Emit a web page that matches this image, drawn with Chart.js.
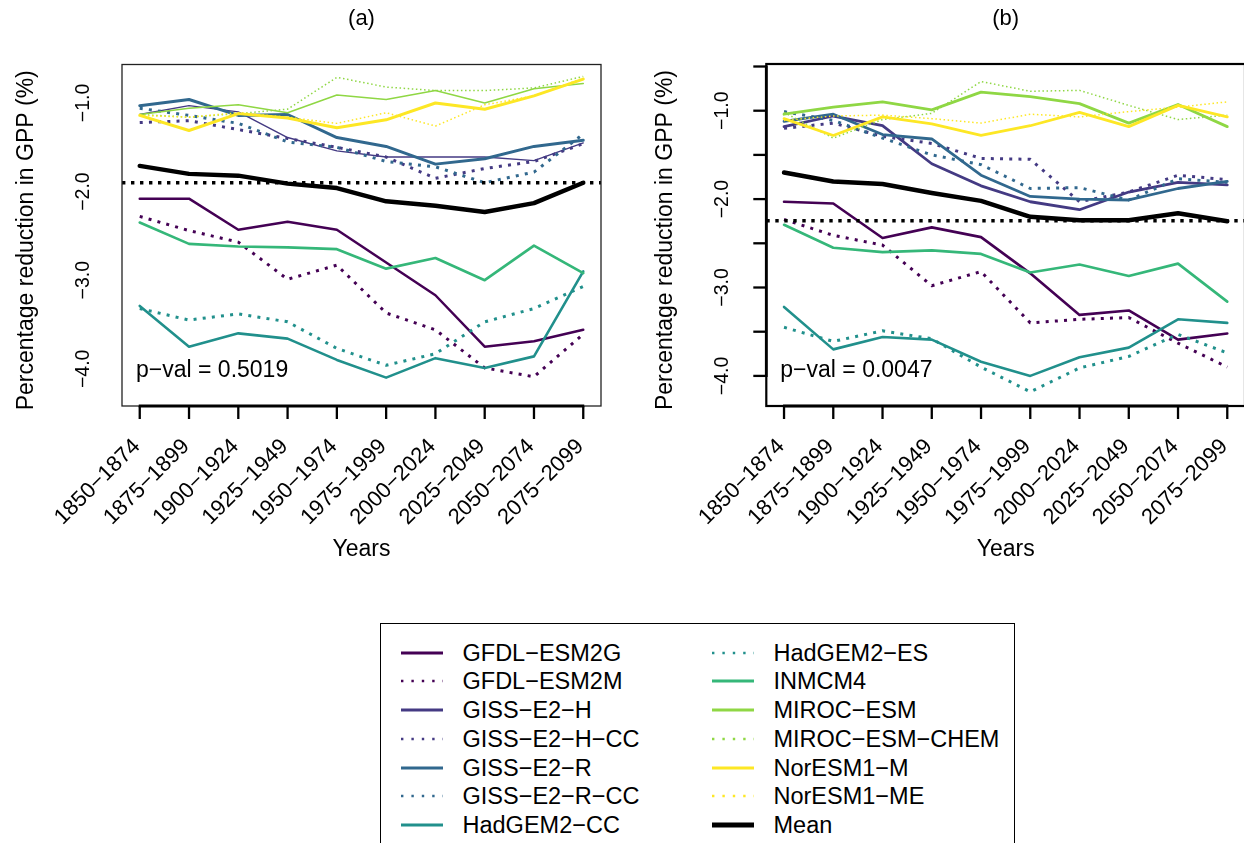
<!DOCTYPE html>
<html><head><meta charset="utf-8">
<script src="https://cdn.jsdelivr.net/npm/chart.js@4.4.1/dist/chart.umd.min.js"></script>
<style>
html,body{margin:0;padding:0;background:#fff;}
body{width:1244px;height:843px;overflow:hidden;position:relative;font-family:"Liberation Sans",Arial,Helvetica,sans-serif;}
canvas{position:absolute;top:0;}
#ca{left:0;}
#cb{left:644px;}
#legend{position:absolute;left:380px;top:623px;width:635px;height:260px;border:1.5px solid #000;box-sizing:border-box;background:#fff;}
.item{position:absolute;height:28px;line-height:28px;font-size:23.5px;color:#000;white-space:nowrap;width:300px;}
.item svg{position:absolute;left:0;top:0;}
.item span{position:absolute;left:63px;top:0;}
</style></head>
<body>
<canvas id="ca" width="644" height="600"></canvas>
<canvas id="cb" width="610" height="600"></canvas>
<div id="legend"></div>
<script>
// ---------------- DATA ----------------
const periods = ['1850\u22121874','1875\u22121899','1900\u22121924','1925\u22121949','1950\u22121974','1975\u22121999','2000\u22122024','2025\u22122049','2050\u22122074','2075\u22122099'];
const models = ['GFDL\u2212ESM2G','GFDL\u2212ESM2M','GISS\u2212E2\u2212H','GISS\u2212E2\u2212H\u2212CC','GISS\u2212E2\u2212R','GISS\u2212E2\u2212R\u2212CC','HadGEM2\u2212CC','HadGEM2\u2212ES','INMCM4','MIROC\u2212ESM','MIROC\u2212ESM\u2212CHEM','NorESM1\u2212M','NorESM1\u2212ME','Mean'];

// Panel (a)
const A_GFDL_ESM2G     = [-2.08, -2.08, -2.43, -2.34, -2.43, -2.80, -3.17, -3.75, -3.69, -3.56];
const A_GFDL_ESM2M     = [-2.28, -2.44, -2.57, -2.99, -2.83, -3.37, -3.56, -3.99, -4.09, -3.61];
const A_GISS_E2_H      = [-1.13, -1.03, -1.10, -1.39, -1.54, -1.61, -1.61, -1.61, -1.65, -1.45];
const A_GISS_E2_H_CC   = [-1.22, -1.20, -1.30, -1.40, -1.50, -1.61, -1.85, -1.74, -1.66, -1.46];
const A_GISS_E2_R      = [-1.03, -0.96, -1.14, -1.13, -1.39, -1.49, -1.69, -1.63, -1.49, -1.42];
const A_GISS_E2_R_CC   = [-1.06, -1.14, -1.23, -1.44, -1.50, -1.66, -1.72, -1.90, -1.78, -1.35];
const A_HadGEM2_CC     = [-3.29, -3.75, -3.60, -3.66, -3.90, -4.10, -3.88, -3.99, -3.86, -2.90];
const A_HadGEM2_ES     = [-3.32, -3.45, -3.38, -3.47, -3.77, -3.96, -3.83, -3.47, -3.32, -3.07];
const A_INMCM4         = [-2.35, -2.59, -2.62, -2.63, -2.65, -2.87, -2.75, -3.00, -2.61, -2.92];
const A_MIROC_ESM      = [-1.13, -1.06, -1.02, -1.11, -0.91, -0.96, -0.86, -1.00, -0.84, -0.78];
const A_MIROC_ESM_CHEM = [-1.13, -1.16, -1.12, -1.07, -0.71, -0.82, -0.86, -0.86, -0.83, -0.70];
const A_NorESM1_M      = [-1.14, -1.31, -1.12, -1.17, -1.28, -1.19, -1.00, -1.07, -0.92, -0.73];
const A_NorESM1_ME     = [-1.14, -1.16, -1.11, -1.16, -1.23, -1.11, -1.26, -1.02, -0.92, -0.72];
const A_Mean           = [-1.71, -1.80, -1.82, -1.91, -1.96, -2.11, -2.16, -2.23, -2.13, -1.90];
const A_ref = -1.90;
const A_pval = 'p\u2212val = 0.5019';

// Panel (b)
const B_GFDL_ESM2G     = [-2.03, -2.05, -2.44, -2.32, -2.43, -2.84, -3.31, -3.26, -3.59, -3.52];
const B_GFDL_ESM2M     = [-2.23, -2.41, -2.52, -2.98, -2.82, -3.40, -3.36, -3.34, -3.63, -3.90];
const B_GISS_E2_H      = [-1.18, -1.06, -1.17, -1.60, -1.85, -2.03, -2.12, -1.92, -1.81, -1.84];
const B_GISS_E2_H_CC   = [-1.20, -1.14, -1.29, -1.37, -1.54, -1.55, -2.03, -1.92, -1.73, -1.78];
const B_GISS_E2_R      = [-1.12, -1.04, -1.27, -1.32, -1.73, -1.97, -2.00, -2.01, -1.88, -1.80];
const B_GISS_E2_R_CC   = [-1.01, -1.11, -1.31, -1.50, -1.61, -1.88, -1.87, -2.01, -1.77, -1.81];
const B_HadGEM2_CC     = [-3.22, -3.70, -3.56, -3.59, -3.84, -4.00, -3.79, -3.68, -3.36, -3.40];
const B_HadGEM2_ES     = [-3.45, -3.61, -3.49, -3.58, -3.90, -4.18, -3.91, -3.78, -3.53, -3.74];
const B_INMCM4         = [-2.29, -2.55, -2.60, -2.58, -2.62, -2.83, -2.74, -2.87, -2.73, -3.16];
const B_MIROC_ESM      = [-1.04, -0.96, -0.90, -0.99, -0.79, -0.84, -0.92, -1.14, -0.93, -1.18];
const B_MIROC_ESM_CHEM = [-1.02, -1.31, -1.10, -1.03, -0.67, -0.78, -0.77, -0.94, -1.10, -1.05];
const B_NorESM1_M      = [-1.09, -1.28, -1.07, -1.15, -1.28, -1.17, -1.02, -1.18, -0.94, -1.07];
const B_NorESM1_ME     = [-1.11, -1.06, -1.05, -1.09, -1.14, -1.04, -1.07, -1.01, -0.96, -0.90];
const B_Mean           = [-1.70, -1.80, -1.83, -1.93, -2.02, -2.20, -2.24, -2.24, -2.16, -2.25];
const B_ref = -2.245;
const B_pval = 'p\u2212val = 0.0047';

// Axis tick values / labels
const yTickValues = [-0.5, -1.0, -1.5, -2.0, -2.5, -3.0, -3.5, -4.0];
const yLabelValues = [-1.0, -2.0, -3.0, -4.0];
const yLabelTexts = ['\u22121.0', '\u22122.0', '\u22123.0', '\u22124.0'];
const yTitle = 'Percentage reduction in GPP (%)';
const xTitle = 'Years';

const seriesA = [A_GFDL_ESM2G, A_GFDL_ESM2M, A_GISS_E2_H, A_GISS_E2_H_CC, A_GISS_E2_R, A_GISS_E2_R_CC, A_HadGEM2_CC, A_HadGEM2_ES, A_INMCM4, A_MIROC_ESM, A_MIROC_ESM_CHEM, A_NorESM1_M, A_NorESM1_ME, A_Mean];
const seriesB = [B_GFDL_ESM2G, B_GFDL_ESM2M, B_GISS_E2_H, B_GISS_E2_H_CC, B_GISS_E2_R, B_GISS_E2_R_CC, B_HadGEM2_CC, B_HadGEM2_ES, B_INMCM4, B_MIROC_ESM, B_MIROC_ESM_CHEM, B_NorESM1_M, B_NorESM1_ME, B_Mean];

// ---------------- STYLES ----------------
const V = ['#440154','#443A83','#31688E','#21908C','#35B779','#8FD744','#FDE725'];
const styles = [
  {c:V[0], dot:false, wA:2.5, wB:2.6},
  {c:V[0], dot:true,  wA:3,   wB:3},
  {c:V[1], dot:false, wA:1.4, wB:2.8},
  {c:V[1], dot:true,  wA:3,   wB:3},
  {c:V[2], dot:false, wA:3,   wB:2.8},
  {c:V[2], dot:true,  wA:3,   wB:3},
  {c:V[3], dot:false, wA:2.6, wB:2.6},
  {c:V[3], dot:true,  wA:3,   wB:3},
  {c:V[4], dot:false, wA:2.7, wB:2.6},
  {c:V[5], dot:false, wA:1.5, wB:2.8},
  {c:V[5], dot:true,  wA:1.5, wB:1.5, fine:true},
  {c:V[6], dot:false, wA:3,   wB:2.8},
  {c:V[6], dot:true,  wA:1.5, wB:1.5, fine:true},
  {c:'#000000', dot:false, wA:4.5, wB:4.5}
];

const FONT = '"Liberation Sans", Arial, Helvetica, sans-serif';

function makeDatasets(series, panel) {
  return series.map((vals, i) => {
    const s = styles[i];
    const w = panel === 'A' ? s.wA : s.wB;
    return {
      label: models[i],
      data: vals.map((v, j) => ({x: j, y: v})),
      borderColor: s.c,
      backgroundColor: s.c,
      borderWidth: w,
      borderDash: s.dot ? (s.fine ? [1.5, 2.6] : [3, 6.2]) : [],
      borderCapStyle: s.dot ? 'butt' : 'round',
      borderJoinStyle: 'round',
      pointRadius: 0,
      tension: 0,
      fill: false,
      order: series.length - i
    };
  });
}

const rPanel = {
  id: 'rpanel',
  afterDatasetsDraw(chart) {
    const o = chart.options.plugins.rpanel;
    const {ctx, chartArea: a} = chart;
    const xs = chart.scales.x, ys = chart.scales.y;
    ctx.save();
    ctx.strokeStyle = '#000'; ctx.fillStyle = '#000';
    // reference dotted line (clipped to plot region)
    const yr = ys.getPixelForValue(o.ref);
    ctx.save();
    ctx.beginPath(); ctx.rect(a.left, a.top, a.right - a.left, a.bottom - a.top); ctx.clip();
    ctx.beginPath(); ctx.setLineDash([3.4, 5.6]); ctx.lineWidth = 3.4; ctx.lineCap = 'butt';
    ctx.moveTo(a.left, yr); ctx.lineTo(a.right, yr); ctx.stroke();
    ctx.restore();
    ctx.setLineDash([]);
    // box
    ctx.lineWidth = o.boxW; ctx.strokeStyle = o.boxC;
    ctx.strokeRect(a.left, a.top, a.right - a.left, a.bottom - a.top);
    ctx.strokeStyle = '#000';
    // x axis
    const x0 = xs.getPixelForValue(0), x9 = xs.getPixelForValue(periods.length - 1);
    ctx.lineCap = 'butt';
    ctx.lineWidth = 2.8;
    ctx.beginPath(); ctx.moveTo(x0 - 1, a.bottom); ctx.lineTo(x9 + 1, a.bottom); ctx.stroke();
    ctx.lineWidth = 2.3;
    periods.forEach((p, i) => {
      const px = xs.getPixelForValue(i);
      ctx.beginPath(); ctx.moveTo(px, a.bottom); ctx.lineTo(px, a.bottom + 13); ctx.stroke();
    });
    // y axis (panel b only)
    if (o.yTicks) {
      const yt = ys.getPixelForValue(yTickValues[0]), yb = ys.getPixelForValue(yTickValues[yTickValues.length - 1]);
      ctx.lineWidth = 2.8;
      ctx.beginPath(); ctx.moveTo(a.left, yt - 1); ctx.lineTo(a.left, yb + 1); ctx.stroke();
      ctx.lineWidth = 2.3;
      yTickValues.forEach(v => {
        const py = ys.getPixelForValue(v);
        ctx.beginPath(); ctx.moveTo(a.left, py); ctx.lineTo(a.left - 13, py); ctx.stroke();
      });
    }
    // x tick labels
    ctx.font = '22px ' + FONT;
    periods.forEach((p, i) => {
      const px = xs.getPixelForValue(i);
      ctx.save();
      ctx.translate(px + o.lblDx, a.bottom + o.lblDy);
      ctx.rotate(-Math.PI / 4);
      ctx.textAlign = 'right'; ctx.textBaseline = 'middle';
      ctx.fillText(p, 0, 0);
      ctx.restore();
    });
    // y tick labels
    ctx.font = '19.5px ' + FONT;
    yLabelValues.forEach((v, i) => {
      const py = ys.getPixelForValue(v);
      ctx.save();
      ctx.translate(o.yLblX, py);
      ctx.rotate(-Math.PI / 2);
      ctx.textAlign = 'center'; ctx.textBaseline = 'middle';
      ctx.fillText(yLabelTexts[i], 0, 0);
      ctx.restore();
    });
    // axis titles
    ctx.font = '23px ' + FONT;
    ctx.save();
    ctx.translate(o.yTitleX, (a.top + a.bottom) / 2 + 5);
    ctx.rotate(-Math.PI / 2);
    ctx.textAlign = 'center'; ctx.textBaseline = 'middle';
    ctx.fillText(yTitle, 0, 0);
    ctx.restore();
    ctx.textAlign = 'center'; ctx.textBaseline = 'middle';
    const cx = (a.left + a.right) / 2;
    ctx.fillText(xTitle, cx, 550);
    // panel title
    ctx.font = '22px ' + FONT;
    ctx.fillText(o.title, cx, 19);
    // p-value
    ctx.font = '23px ' + FONT;
    ctx.textAlign = 'left'; ctx.textBaseline = 'alphabetic';
    ctx.fillText(o.pval, a.left + 14, 377);
    ctx.restore();
  }
};

function makeChart(id, series, panel, pad, ymin, ymax, extra) {
  return new Chart(document.getElementById(id), {
    type: 'line',
    data: {datasets: makeDatasets(series, panel)},
    options: {
      responsive: false, animation: false, devicePixelRatio: 1, events: [],
      layout: {padding: pad},
      scales: {
        x: {type: 'linear', min: -0.36, max: periods.length - 1 + 0.36, display: false, bounds: 'data'},
        y: {type: 'linear', min: ymin, max: ymax, display: false, bounds: 'data'}
      },
      plugins: {legend: {display: false}, tooltip: {enabled: false}, title: {display: false}, rpanel: extra}
    },
    plugins: [rPanel]
  });
}

makeChart('ca', seriesA, 'A', {left: 122, top: 64.5, right: 43, bottom: 194}, -4.42, -0.5655,
  {ref: A_ref, pval: A_pval, title: '(a)', boxW: 1.3, boxC: '#222', yTicks: false, lblDx: -3, lblDy: 37, yLblX: 84, yTitleX: 27});
makeChart('cb', seriesB, 'B', {left: 122.3, top: 64, right: 9, bottom: 194}, -4.3405, -0.4717,
  {ref: B_ref, pval: B_pval, title: '(b)', boxW: 2.2, boxC: '#000', yTicks: true, lblDx: -3, lblDy: 37, yLblX: 79, yTitleX: 22});

// ---------------- LEGEND (HTML) ----------------
const legend = document.getElementById('legend');
models.forEach((m, i) => {
  const col = i < 7 ? 0 : 1;
  const row = i % 7;
  const s = styles[i];
  const left = col === 0 ? 18.5 : 329.5;
  const top = 28.5 + row * 28.75 - 14;
  const w = m === 'Mean' ? 5 : (s.dot ? 2.4 : 3);
  const dash = s.dot ? 'stroke-dasharray="2.4 8"' : '';
  const div = document.createElement('div');
  div.className = 'item';
  div.style.left = left + 'px';
  div.style.top = top + 'px';
  div.innerHTML = '<svg width="46" height="28"><line x1="1" y1="14" x2="43" y2="14" stroke="' + s.c + '" stroke-width="' + w + '" ' + dash + '/></svg><span>' + m + '</span>';
  legend.appendChild(div);
});
</script>
</body></html>
